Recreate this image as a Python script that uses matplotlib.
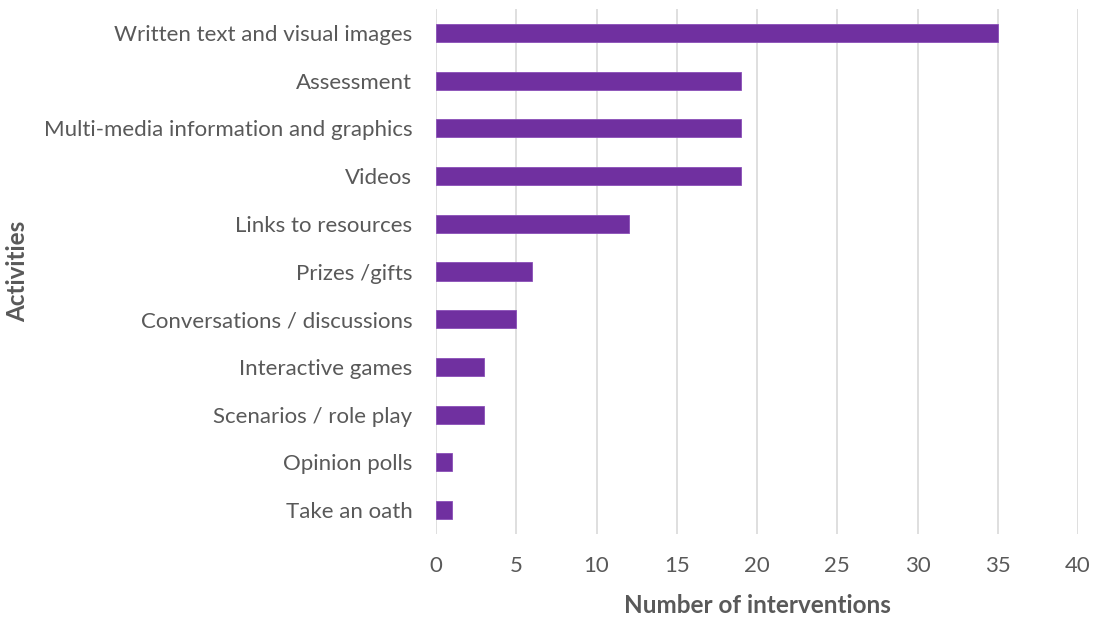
import matplotlib
matplotlib.use("Agg")
import matplotlib.pyplot as plt

categories = ["Written text and visual images", "Assessment", "Multi-media information and graphics",
              "Videos", "Links to resources", "Prizes /gifts", "Conversations / discussions",
              "Interactive games", "Scenarios / role play", "Opinion polls", "Take an oath"]
values = [35, 19, 19, 19, 12, 6, 5, 3, 3, 1, 1]
xticks = [0, 5, 10, 15, 20, 25, 30, 35, 40]

plt.rcParams['font.family'] = ['Lato', 'DejaVu Sans']
txt = '#595959'

fig = plt.figure(figsize=(10.94, 6.17), dpi=100)
ax = fig.add_axes([436/1094, 1-534/617, (1078-436)/1094, (534-9)/617])

pos = list(range(len(categories)))
ax.barh(pos, values, height=0.38, color='#7030A0', edgecolor='#8a4fb8', linewidth=0.6, zorder=3)
ax.set_ylim(len(categories)-0.5, -0.5)
ax.set_xlim(0, 40)
ax.set_xticks(xticks)
ax.set_yticks(pos)
ax.set_yticklabels(categories)
ax.tick_params(axis='both', length=0, colors=txt, labelsize=16)
ax.tick_params(axis='x', pad=16)
ax.tick_params(axis='y', pad=17)
ax.grid(axis='x', color='#D9D9D9', linewidth=1.2, zorder=0)
for s in ax.spines.values():
    s.set_visible(False)
ax.set_xlabel('Number of interventions', fontsize=17.5, fontweight='bold', color=txt, labelpad=13)
ax.set_ylabel('Activities', fontsize=17.5, fontweight='bold', color=txt)
ax.yaxis.set_label_coords((29-436)/642, 0.5)

fig.savefig('out.png', dpi=100)
